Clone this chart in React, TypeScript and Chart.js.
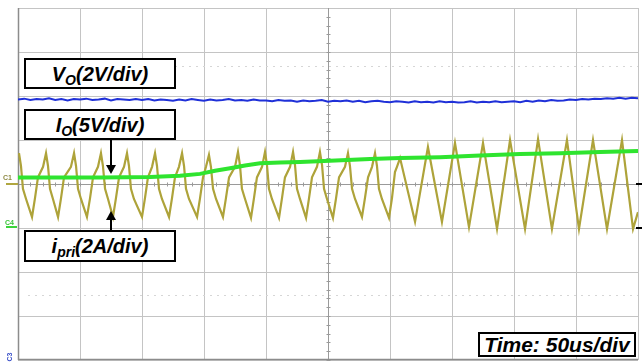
import React, { useEffect, useRef } from "react";
import { Chart, registerables } from "chart.js";

Chart.register(...registerables);

// Oscilloscope screen: time in µs (50 µs/div, 10 div), vertical in divisions (8 div)
const timeRange = [0, 500];
const levelRange = [-4, 4];
const gridTimes = [0, 50, 100, 150, 200, 250, 300, 350, 400, 450, 500];
const gridLevels = [-4, -3, -2, -1, 0, 1, 2, 3, 4];
const cursorLevels = [2.68, -2.52];

// Vo (2V/div) – blue
const voTimes = [
  0, 5, 10, 15, 20, 25, 30, 35, 40, 45, 50, 55, 60, 65, 70, 75, 80, 85, 90, 95,
  100, 105, 110, 115, 120, 125, 130, 135, 140, 145, 150, 155, 160, 165, 170, 175, 180, 185, 190, 195,
  200, 205, 210, 215, 220, 225, 230, 235, 240, 245, 250, 255, 260, 265, 270, 275, 280, 285, 290, 295,
  300, 305, 310, 315, 320, 325, 330, 335, 340, 345, 350, 355, 360, 365, 370, 375, 380, 385, 390, 395,
  400, 405, 410, 415, 420, 425, 430, 435, 440, 445, 450, 455, 460, 465, 470, 475, 480, 485, 490, 495, 500,
];
const voLevels = [
  1.92, 1.94, 1.91, 1.93, 1.92, 1.95, 1.91, 1.93, 1.9, 1.93, 1.92, 1.94, 1.91, 1.92, 1.94, 1.9, 1.93, 1.92, 1.91, 1.93,
  1.91, 1.93, 1.9, 1.92, 1.91, 1.89, 1.92, 1.9, 1.93, 1.91, 1.89, 1.92, 1.9, 1.91, 1.93, 1.9, 1.91, 1.89, 1.92, 1.9,
  1.9, 1.88, 1.91, 1.89, 1.9, 1.87, 1.9, 1.88, 1.89, 1.91, 1.87, 1.89, 1.88, 1.9, 1.87, 1.89, 1.86, 1.88, 1.89, 1.87,
  1.86, 1.88, 1.87, 1.85, 1.88, 1.86, 1.87, 1.85, 1.88, 1.86, 1.87, 1.85, 1.86, 1.88, 1.85, 1.87, 1.86, 1.88, 1.86, 1.87,
  1.88, 1.86, 1.89, 1.87, 1.9, 1.88, 1.91, 1.89, 1.9, 1.92, 1.91, 1.93, 1.92, 1.94, 1.93, 1.95, 1.94, 1.96, 1.94, 1.96, 1.95,
];

// Io (5V/div) – green
const ioTimes = [0, 66.1, 106.5, 130.6, 146.8, 158.9, 171.0, 183.1, 195.2, 211.3, 227.4, 251.6, 283.9, 308.1, 340.3, 372.6, 404.8, 437.1, 469.4, 500];
const ioLevels = [0.15, 0.15, 0.16, 0.19, 0.23, 0.3, 0.36, 0.42, 0.47, 0.49, 0.5, 0.53, 0.57, 0.59, 0.61, 0.65, 0.68, 0.7, 0.73, 0.75];

// ipri (2A/div) – olive
const ipriTrace: [number, number][] = [
  [0.8, 0.7], [2.4, 0.41], [4.0, -0.11], [6.5, -0.34], [11.3, -0.75], [13.7, -0.32], [16.1, 0.15], [20.2, 0.39],
  [22.6, 0.7], [24.2, 0.41], [25.8, -0.11], [28.2, -0.34], [32.3, -0.75], [34.7, -0.32], [37.1, 0.15], [42.7, 0.39],
  [45.2, 0.7], [46.8, 0.41], [48.4, -0.11], [50.8, -0.34], [55.6, -0.75], [58.1, -0.32], [60.5, 0.15], [64.5, 0.39],
  [66.9, 0.7], [68.5, 0.41], [70.2, -0.11], [72.6, -0.34], [76.6, -0.75], [79.0, -0.32], [81.5, 0.15], [85.5, 0.39],
  [87.9, 0.7], [89.5, 0.41], [91.1, -0.11], [93.5, -0.34], [100.0, -0.75], [102.4, -0.32], [104.8, 0.15], [108.1, 0.39],
  [110.5, 0.7], [112.1, 0.41], [113.7, -0.11], [116.1, -0.34], [121.8, -0.75], [124.2, -0.32], [126.6, 0.15], [129.8, 0.39],
  [132.3, 0.7], [133.9, 0.41], [135.5, -0.11], [137.9, -0.34], [144.4, -0.75], [146.8, -0.32], [149.2, 0.15], [151.6, 0.39],
  [154.0, 0.66], [155.6, 0.39], [157.3, -0.11], [159.7, -0.34], [165.3, -0.75], [167.7, -0.32], [170.2, 0.15], [175.0, 0.39],
  [177.4, 0.73], [179.0, 0.43], [180.6, -0.11], [183.1, -0.34], [187.9, -0.77], [190.3, -0.32], [192.7, 0.15], [196.8, 0.39],
  [199.2, 0.73], [200.8, 0.43], [202.4, -0.11], [204.8, -0.34], [210.5, -0.77], [212.9, -0.32], [215.3, 0.15], [219.4, 0.39],
  [221.8, 0.73], [223.4, 0.43], [225.0, -0.11], [227.4, -0.34], [232.3, -0.77], [234.7, -0.32], [237.1, 0.15], [241.1, 0.39],
  [243.5, 0.73], [245.2, 0.43], [246.8, -0.11], [249.2, -0.34], [254.0, -0.77], [256.5, -0.32], [258.9, 0.15], [263.7, 0.39],
  [266.1, 0.7], [267.7, 0.41], [269.4, -0.11], [271.8, -0.34], [277.4, -0.75], [279.8, -0.32], [282.3, 0.15], [285.5, 0.39],
  [287.9, 0.7], [289.5, 0.41], [291.1, -0.11], [293.5, -0.34], [299.2, -0.77], [301.6, -0.32], [304.0, 0.27], [305.6, 0.39],
  [308.1, 0.59], [320.2, -0.86],
  [330.6, 0.84], [341.9, -0.86],
  [352.4, 0.93], [363.7, -0.98],
  [375.0, 0.93], [386.3, -1.02],
  [396.8, 1.0], [408.9, -1.02],
  [419.4, 1.02], [430.6, -1.02],
  [442.7, 1.0], [452.4, -1.02],
  [463.7, 1.0], [475.0, -1.02],
  [487.1, 1.0], [496.0, -1.02], [500, -0.64],
];

const FONT = '"Liberation Sans", Arial, sans-serif';

const scopePlugin = {
  id: "scope",
  beforeDatasetsDraw(chart: any) {
    const { ctx, chartArea: a, scales } = chart;
    const x = scales.x;
    const y = scales.y;
    const ln = (x1: number, y1: number, x2: number, y2: number) => {
      ctx.beginPath();
      ctx.moveTo(x1, y1);
      ctx.lineTo(x2, y2);
      ctx.stroke();
    };
    ctx.save();
    ctx.lineWidth = 1;
    ctx.strokeStyle = "#c4c4c4";
    for (const t of gridTimes) {
      const px = Math.round(x.getPixelForValue(t)) + 0.5;
      ln(px, a.top, px, a.bottom);
    }
    for (const d of gridLevels) {
      const py = Math.round(y.getPixelForValue(d)) + 0.5;
      ln(a.left, py, a.right, py);
    }
    // dotted cursor lines
    ctx.strokeStyle = "#d6d6d6";
    ctx.setLineDash([2, 5]);
    for (const d of cursorLevels) {
      const py = Math.round(y.getPixelForValue(d)) + 0.5;
      ln(a.left + 10, py, a.right, py);
    }
    ctx.setLineDash([]);
    // center cross (darker) with minor ticks
    ctx.strokeStyle = "#9a9a9a";
    const cx = Math.round(x.getPixelForValue(250)) + 0.5;
    const cy = Math.round(y.getPixelForValue(0)) + 0.5;
    ln(cx, a.top, cx, a.bottom);
    ln(a.left, cy, a.right, cy);
    for (let t = 0; t <= 500; t += 10) {
      const px = Math.round(x.getPixelForValue(t)) + 0.5;
      ln(px, cy - 2, px, cy + 2);
    }
    for (let d = -4; d <= 4; d += 0.2) {
      const py = Math.round(y.getPixelForValue(d)) + 0.5;
      ln(cx - 2, py, cx + 2, py);
    }
    // outer left / bottom border
    ctx.strokeStyle = "#8c8c8c";
    ctx.lineWidth = 1.5;
    ln(a.left + 0.5, a.top, a.left + 0.5, a.bottom);
    ln(a.left, a.bottom - 0.5, a.right, a.bottom - 0.5);
    ctx.restore();
  },
  afterDraw(chart: any) {
    const { ctx, scales } = chart;
    const y = scales.y;
    const c1 = y.getPixelForValue(0);
    const c4 = y.getPixelForValue(-1);
    ctx.save();
    // channel markers on left
    ctx.font = `bold 7px ${FONT}`;
    ctx.textBaseline = "middle";
    ctx.fillStyle = "#8f8a45";
    ctx.fillText("C1", 3, c1 - 6);
    ctx.strokeStyle = "#b0a640";
    ctx.lineWidth = 2;
    ctx.beginPath();
    ctx.moveTo(6, c1);
    ctx.lineTo(18, c1);
    ctx.stroke();
    ctx.fillStyle = "#3bc43b";
    ctx.fillText("C4", 5, c4 - 5);
    ctx.strokeStyle = "#3bd43b";
    ctx.beginPath();
    ctx.moveTo(6, c4 - 1);
    ctx.lineTo(17, c4 - 1);
    ctx.stroke();
    ctx.save();
    ctx.translate(10, 357);
    ctx.rotate(-Math.PI / 2);
    ctx.fillStyle = "#3a50c8";
    ctx.textAlign = "center";
    ctx.fillText("C3", 0, 0);
    ctx.restore();
    // right-side reference markers
    ctx.strokeStyle = "#000";
    ctx.lineWidth = 2;
    for (const py of [c1, c4]) {
      ctx.beginPath();
      ctx.moveTo(636, Math.round(py));
      ctx.lineTo(642, Math.round(py));
      ctx.stroke();
    }
    // arrows from annotation boxes
    ctx.fillStyle = "#000";
    ctx.lineWidth = 2;
    const ax = 111;
    ctx.beginPath();
    ctx.moveTo(ax, 140);
    ctx.lineTo(ax, 166);
    ctx.stroke();
    ctx.beginPath();
    ctx.moveTo(ax - 5, 165);
    ctx.lineTo(ax + 5, 165);
    ctx.lineTo(ax, 174);
    ctx.closePath();
    ctx.fill();
    ctx.beginPath();
    ctx.moveTo(ax, 230);
    ctx.lineTo(ax, 218);
    ctx.stroke();
    ctx.beginPath();
    ctx.moveTo(ax - 5, 220);
    ctx.lineTo(ax + 5, 220);
    ctx.lineTo(ax, 211);
    ctx.closePath();
    ctx.fill();
    ctx.restore();
  },
};

const boxBase: React.CSSProperties = {
  position: "absolute",
  boxSizing: "border-box",
  border: "2px solid #000",
  background: "#fff",
  color: "#000",
  fontFamily: FONT,
  fontStyle: "italic",
  fontWeight: "bold",
  fontSize: 20,
  display: "flex",
  alignItems: "center",
  justifyContent: "center",
  whiteSpace: "nowrap",
  lineHeight: 1,
};
const subStyle: React.CSSProperties = { fontSize: 14, verticalAlign: "-4px", lineHeight: 0 };

export default function App() {
  const ref = useRef<HTMLCanvasElement | null>(null);
  useEffect(() => {
    if (!ref.current) return;
    const chart = new Chart(ref.current, {
      type: "line",
      data: {
        datasets: [
          {
            label: "Io",
            data: ioTimes.map((t, i) => ({ x: t, y: ioLevels[i] })),
            borderColor: "#2fe42f",
            borderWidth: 4,
            pointRadius: 0,
            order: 1,
          },
          {
            label: "ipri",
            data: ipriTrace.map(([t, v]) => ({ x: t, y: v })),
            borderColor: "#aea33a",
            borderWidth: 2.2,
            pointRadius: 0,
            order: 2,
          },
          {
            label: "Vo",
            data: voTimes.map((t, i) => ({ x: t, y: voLevels[i] })),
            borderColor: "#1f30d8",
            borderWidth: 2,
            pointRadius: 0,
            order: 3,
          },
        ],
      },
      options: {
        animation: false,
        responsive: false,
        events: [],
        layout: { padding: { left: 18, right: 4, top: 8, bottom: 4 } },
        plugins: { legend: { display: false }, tooltip: { enabled: false } },
        scales: {
          x: { type: "linear", min: timeRange[0], max: timeRange[1], display: false },
          y: { type: "linear", min: levelRange[0], max: levelRange[1], display: false },
        },
      },
      plugins: [scopePlugin],
    });
    return () => chart.destroy();
  }, []);

  return (
    <div style={{ position: "absolute", left: 0, top: 0, width: 642, height: 364, background: "#fff", overflow: "hidden" }}>
      <canvas ref={ref} width={642} height={364} style={{ display: "block" }} />
      <div style={{ ...boxBase, left: 24, top: 58, width: 152, height: 31 }}>
        <span>
          V<sub style={subStyle}>O</sub>(2V/div)
        </span>
      </div>
      <div style={{ ...boxBase, left: 24, top: 109, width: 152, height: 31 }}>
        <span>
          I<sub style={subStyle}>O</sub>(5V/div)
        </span>
      </div>
      <div style={{ ...boxBase, left: 24, top: 230, width: 152, height: 32 }}>
        <span>
          i<sub style={subStyle}>pri</sub>(2A/div)
        </span>
      </div>
      <div style={{ ...boxBase, left: 478, top: 332, width: 158, height: 25, fontSize: 21 }}>
        <span>Time: 50us/div</span>
      </div>
    </div>
  );
}
